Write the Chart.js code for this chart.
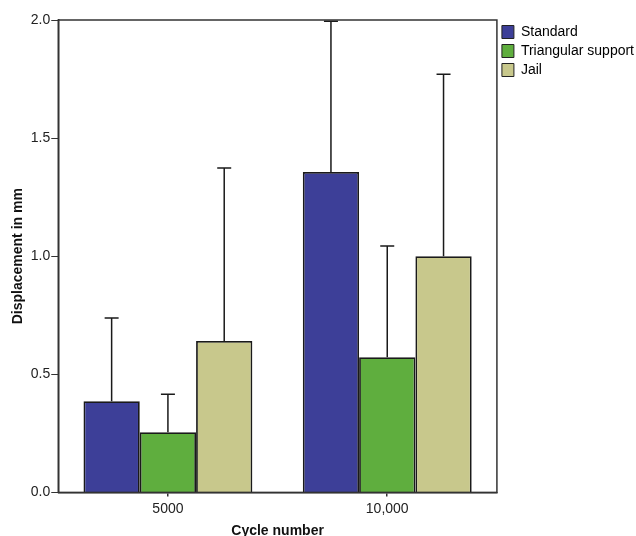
<!DOCTYPE html>
<html>
<head>
<meta charset="utf-8">
<script src="https://cdn.jsdelivr.net/npm/chart.js@4"></script>
<style>
  body { margin: 0; background: #fff; }
  #wrap { width: 636px; height: 536px; }
</style>
</head>
<body>
<div id="wrap"><canvas id="chart"></canvas></div>
<script>
const cycles = ['5000', '10,000'];
const standardMean = [0.386, 1.357];
const standardUpper = [0.738, 1.995];
const triangularMean = [0.255, 0.572];
const triangularUpper = [0.416, 1.043];
const jailMean = [0.641, 1.0];
const jailUpper = [1.373, 1.77];
const yTicks = [0, 0.5, 1.0, 1.5, 2.0];

// draw the upward error bars and the box around the plot
const errorBars = {
    id: 'errorBars',
    afterDatasetsDraw(chart) {
        const ctx = chart.ctx;
        const y = chart.scales.y;
        ctx.save();
        ctx.strokeStyle = '#1a1a1a';
        ctx.lineWidth = 1.5;
        chart.data.datasets.forEach((ds, i) => {
            const meta = chart.getDatasetMeta(i);
            meta.data.forEach((bar, j) => {
                const top = y.getPixelForValue(ds.upper[j]);
                const base = y.getPixelForValue(ds.data[j]);
                ctx.beginPath();
                ctx.moveTo(bar.x, base);
                ctx.lineTo(bar.x, top);
                ctx.moveTo(bar.x - 7, top);
                ctx.lineTo(bar.x + 7, top);
                ctx.stroke();
            });
        });
        const a = chart.chartArea;
        ctx.lineWidth = 1.5;
        ctx.strokeStyle = '#333';
        ctx.strokeRect(a.left, a.top, a.right - a.left, a.bottom - a.top);
        ctx.restore();
    }
};

const font = 'Liberation Sans, Arial, sans-serif';

new Chart(document.getElementById('chart'), {
    type: 'bar',
    data: {
        labels: cycles,
        datasets: [
            { label: 'Standard', data: standardMean, upper: standardUpper, backgroundColor: '#3d3f98' },
            { label: 'Triangular support', data: triangularMean, upper: triangularUpper, backgroundColor: '#5fae3e' },
            { label: 'Jail', data: jailMean, upper: jailUpper, backgroundColor: '#c8c88c' }
        ]
    },
    options: {
        responsive: true,
        maintainAspectRatio: false,
        animation: false,
        categoryPercentage: 0.77,
        barPercentage: 1,
        datasets: {
            bar: { borderColor: '#1a1a1a', borderWidth: 1.8 }
        },
        layout: { padding: { top: 20, right: -8, bottom: -4, left: 10 } },
        plugins: {
            legend: {
                position: 'right',
                align: 'start',
                labels: {
                    boxWidth: 12,
                    boxHeight: 13,
                    padding: 5,
                    color: '#111',
                    font: { family: font, size: 14 },
                    generateLabels(chart) {
                        return chart.data.datasets.map((ds, i) => ({
                            text: ds.label,
                            fillStyle: ds.backgroundColor,
                            strokeStyle: '#222',
                            lineWidth: 1,
                            datasetIndex: i
                        }));
                    }
                }
            },
            tooltip: { enabled: false }
        },
        scales: {
            x: {
                grid: { display: true, offset: false, drawOnChartArea: false, tickLength: 4, color: '#333', lineWidth: 1.5 },
                border: { display: true, color: '#333', width: 1.5 },
                ticks: { color: '#222', font: { family: font, size: 14 }, padding: 4 },
                title: {
                    display: true, text: 'Cycle number', color: '#111',
                    font: { family: font, size: 14, weight: 'bold' },
                    padding: { top: 2, bottom: 0 }
                }
            },
            y: {
                min: 0,
                max: 2.0,
                afterBuildTicks(axis) { axis.ticks = yTicks.map(v => ({ value: v })); },
                grid: { drawOnChartArea: false, tickLength: 7, color: '#333' },
                border: { display: true, color: '#333', width: 1.5 },
                ticks: {
                    color: '#222',
                    font: { family: font, size: 14 },
                    padding: 1,
                    callback: v => v.toFixed(1)
                },
                title: {
                    display: true, text: 'Displacement in mm', color: '#111',
                    font: { family: font, size: 14, weight: 'bold' },
                    padding: { top: 0, bottom: 3 }
                }
            }
        }
    },
    plugins: [errorBars]
});
</script>
</body>
</html>
